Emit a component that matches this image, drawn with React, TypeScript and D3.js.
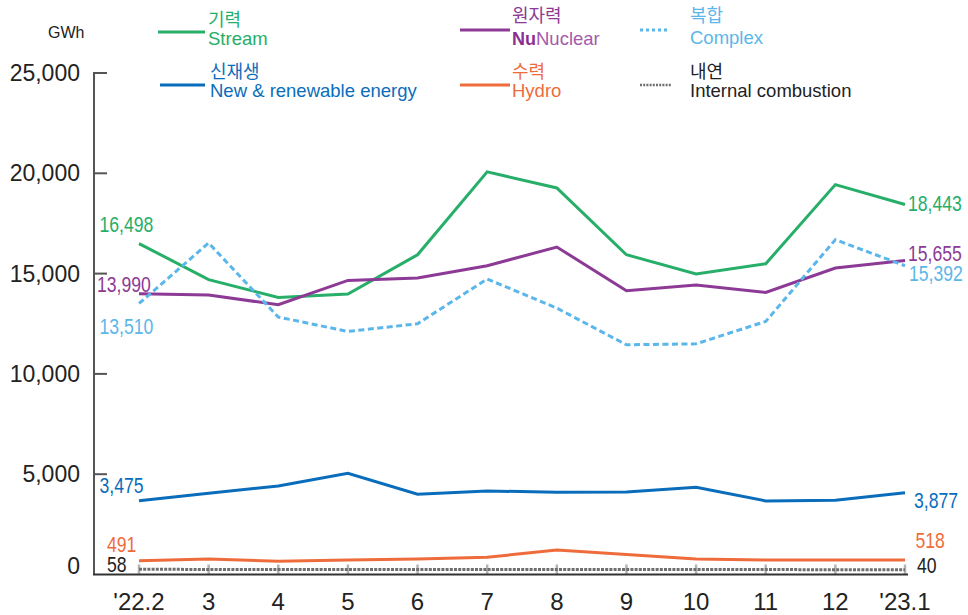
import React from "react";
import * as d3 from "d3";

const categories = ["'22.2", "3", "4", "5", "6", "7", "8", "9", "10", "11", "12", "'23.1"];
const stream = [16498, 14700, 13810, 13980, 15940, 20070, 19270, 15940, 14980, 15490, 19435, 18443];
const nuclear = [13990, 13930, 13450, 14660, 14780, 15390, 16325, 14150, 14430, 14060, 15280, 15655];
const complex = [13510, 16525, 12835, 12115, 12500, 14730, 13280, 11450, 11500, 12615, 16690, 15392];
const renewable = [3475, 3850, 4215, 4850, 3800, 3965, 3900, 3915, 4150, 3470, 3500, 3877];
const hydro = [491, 575, 460, 525, 575, 660, 1020, 800, 575, 525, 525, 518];
const internal = [58, 55, 52, 50, 50, 50, 55, 50, 48, 45, 42, 40];
const yTicks = [0, 5000, 10000, 15000, 20000, 25000];

const W = 968;
const H = 615;
const NUM_FONT = "'Liberation Sans', Arial, sans-serif";
const KR_FONT = "'Noto Sans CJK KR', 'Liberation Sans', sans-serif";

type Series = {
  key: string;
  ko: string;
  en: string;
  values: number[];
  color: string;
  width: number;
  dash?: string;
  legendDash?: string;
  lx0: number; ly0: number; lx1: number; ly1: number;
  labelColor: string;
  legendX: number; legendLineW: number; legendLineY: number;
  textX: number; koY: number; enY: number;
  shift: number;
};

const series: Series[] = [
  { key: "stream", ko: "기력", en: "Stream", values: stream, color: "#27ae68", width: 3,
    lx0: 99.5, ly0: -11.5, lx1: 908, ly1: 6, labelColor: "#27ae68",
    legendX: 158, legendLineW: 47, legendLineY: 32, textX: 208, koY: 26, enY: 45, shift: 0 },
  { key: "nuclear", ko: "원자력", en: "Nuclear", values: nuclear, color: "#8c3a95", width: 3,
    lx0: 97, ly0: -1.5, lx1: 908, ly1: 1, labelColor: "#8c3a95",
    legendX: 460, legendLineW: 50, legendLineY: 30, textX: 512, koY: 22, enY: 45, shift: 0 },
  { key: "complex", ko: "복합", en: "Complex", values: complex, color: "#5bb7ea", width: 3, dash: "6,3.5", legendDash: "3,3",
    lx0: 99.5, ly0: 30.5, lx1: 909, ly1: 15.5, labelColor: "#5bb7ea",
    legendX: 640, legendLineW: 28, legendLineY: 30, textX: 690, koY: 22, enY: 44, shift: 0 },
  { key: "renewable", ko: "신재생", en: "New & renewable energy", values: renewable, color: "#0a6dbb", width: 3,
    lx0: 99.5, ly0: -8, lx1: 914, ly1: 15, labelColor: "#0a6dbb",
    legendX: 160, legendLineW: 45, legendLineY: 85, textX: 210, koY: 78, enY: 97, shift: -4 },
  { key: "hydro", ko: "수력", en: "Hydro", values: hydro, color: "#ee6c3b", width: 3,
    lx0: 107, ly0: -9, lx1: 915.5, ly1: -12, labelColor: "#ee6c3b",
    legendX: 460, legendLineW: 50, legendLineY: 85, textX: 512, koY: 78, enY: 97, shift: -4 },
  { key: "internal", ko: "내연", en: "Internal combustion", values: internal, color: "#6e6e6e", width: 3, dash: "3,1.2", legendDash: "2,1.2",
    lx0: 107, ly0: 3, lx1: 917, ly1: 3, labelColor: "#222222",
    legendX: 640, legendLineW: 32, legendLineY: 85, textX: 690, koY: 78, enY: 97, shift: -4 },
];

function NarrowText(props: { x: number; y: number; fill: string; children: React.ReactNode }) {
  return (
    <text transform={`translate(${props.x},${props.y}) scale(0.8,1)`} fill={props.fill}
      fontFamily={NUM_FONT} fontSize={22}>{props.children}</text>
  );
}

export default function App() {
  const x = d3.scalePoint<string>().domain(categories).range([139, 905]);
  const y = d3.scaleLinear().domain([0, 25000]).range([574.5, 73]);
  const fmt = d3.format(",");

  const line = (vals: number[]) =>
    d3.line<number>()
      .x((_, i) => x(categories[i]) as number)
      .y((v) => y(v))(vals) as string;

  return (
    <svg width={W} height={H} viewBox={`0 0 ${W} ${H}`}
      style={{ position: "absolute", left: 0, top: 0, background: "#fff" }}>
      <rect x={0} y={0} width={W} height={H} fill="#fff" />

      {/* unit */}
      <text x={48} y={38} fontFamily={NUM_FONT} fontSize={16} fill="#222">GWh</text>

      {/* legend */}
      {series.map((s) => (
        <g key={"lg" + s.key}>
          <line x1={s.legendX} x2={s.legendX + s.legendLineW} y1={s.legendLineY} y2={s.legendLineY}
            stroke={s.color} strokeWidth={s.key === "internal" ? 2.5 : s.width} strokeDasharray={s.legendDash} />
          <text x={s.textX} y={s.koY} fontFamily={KR_FONT} fontSize={18} fill={s.labelColor}>{s.ko}</text>
          <text x={s.textX} y={s.enY} fontFamily={NUM_FONT} fontSize={18.5} fill={s.labelColor}>
            {s.key === "nuclear" ? (
              <>
                <tspan fill="#8a2f93" fontWeight="bold" fontSize={18}>Nu</tspan>
                <tspan fill="#a35aab">Nuclear</tspan>
              </>
            ) : s.en}
          </text>
        </g>
      ))}

      {/* y axis */}
      <line x1={94} x2={94} y1={y(25000) - 1} y2={y(0)} stroke="#555" strokeWidth={2} />
      {yTicks.filter((t) => t > 0).map((t) => (
        <line key={"yt" + t} x1={94} x2={107} y1={y(t)} y2={y(t)} stroke="#555" strokeWidth={2} />
      ))}
      {yTicks.map((t) => (
        <text key={"yl" + t} x={80} y={t === 0 ? y(t) - 1 : y(t) + 8} textAnchor="end"
          fontFamily={NUM_FONT} fontSize={23} fill="#222">{fmt(t)}</text>
      ))}

      {/* x ticks (gray) */}
      {categories.map((c) => (
        <line key={"xt" + c} x1={x(c)} x2={x(c)} y1={y(0) - 10} y2={y(0)} stroke="#b4b4b4" strokeWidth={2.5} />
      ))}
      {/* x axis baseline */}
      <line x1={93} x2={908} y1={y(0)} y2={y(0)} stroke="#333" strokeWidth={2} />
      {categories.map((c) => (
        <text key={"xl" + c} x={x(c)} y={610} textAnchor="middle"
          fontFamily={NUM_FONT} fontSize={24} fill="#222">{c}</text>
      ))}

      {/* series lines */}
      {series.map((s) => (
        <path key={"ln" + s.key} d={line(s.values)} fill="none" stroke={s.color}
          strokeWidth={s.width} strokeDasharray={s.dash} strokeLinejoin="miter"
          transform={s.shift ? `translate(0,${s.shift})` : undefined} />
      ))}

      {/* end labels */}
      {series.map((s) => {
        const v0 = s.values[0];
        const v1 = s.values[s.values.length - 1];
        return (
          <g key={"el" + s.key}>
            <NarrowText x={s.lx0} y={y(v0) + s.shift + s.ly0} fill={s.labelColor}>{fmt(v0)}</NarrowText>
            <NarrowText x={s.lx1} y={y(v1) + s.shift + s.ly1} fill={s.labelColor}>{fmt(v1)}</NarrowText>
          </g>
        );
      })}
    </svg>
  );
}
